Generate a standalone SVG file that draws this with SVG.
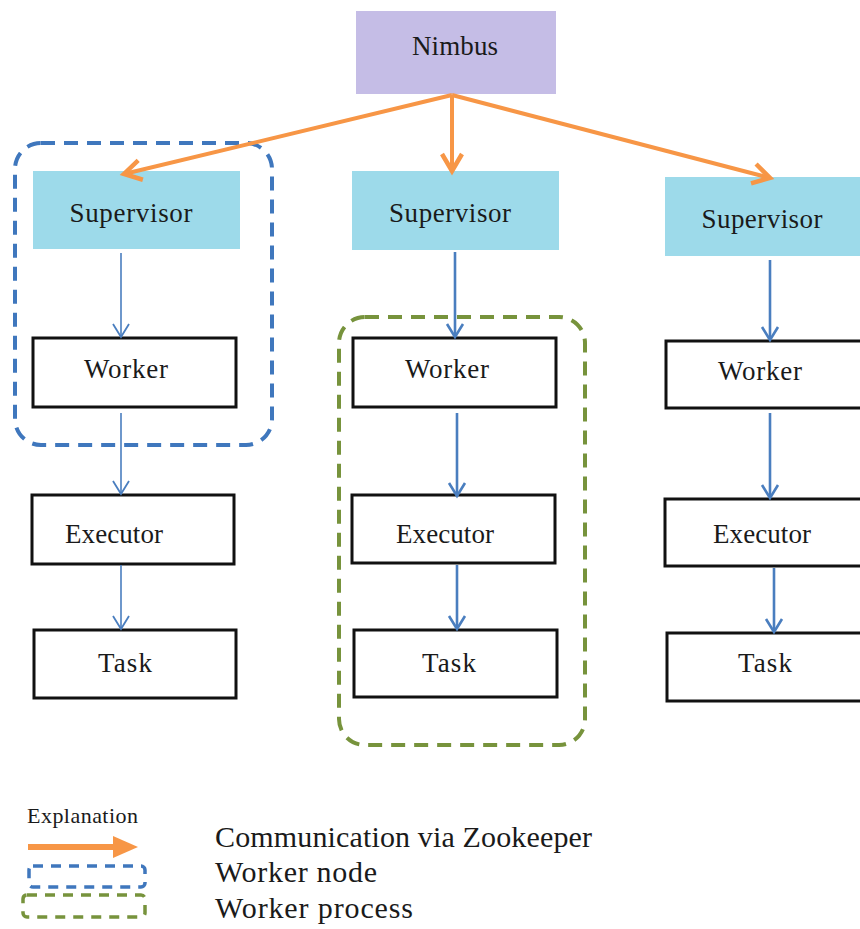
<svg xmlns="http://www.w3.org/2000/svg" width="860" height="929" viewBox="0 0 860 929">
<style>
text{font-family:"Liberation Serif","Times New Roman",serif;fill:#1a1a1a}
.lbl{font-size:27px;text-anchor:middle}
.leg{font-size:30px}
.box{fill:#ffffff;stroke:#111111;stroke-width:3}
.sup{fill:#9ddaea}
.nim{fill:#c5bde6}
.or{stroke:#f79646;stroke-width:4;fill:none;marker-end:url(#ah-or)}
.bt{stroke:#4a7ebf;stroke-width:1.6;fill:none;marker-end:url(#ah-bt)}
.bk{stroke:#4a7ebf;stroke-width:2.6;fill:none;marker-end:url(#ah-bk)}
.wn{fill:none;stroke:#3f77bd;stroke-width:4;stroke-dasharray:14 9}
.wp{fill:none;stroke:#77933c;stroke-width:4;stroke-dasharray:14 9}
</style>
<defs>
<marker id="ah-or" viewBox="-22 -14 26 28" refX="0" refY="0" markerUnits="userSpaceOnUse" markerWidth="26" markerHeight="28" orient="auto" overflow="visible">
<path d="M-17,-10 L0,0 L-17,10" fill="none" stroke="#f79646" stroke-width="4.5"/>
</marker>
<marker id="ah-bt" viewBox="-16 -12 20 24" refX="0" refY="0" markerUnits="userSpaceOnUse" markerWidth="20" markerHeight="24" orient="auto" overflow="visible">
<path d="M-13,-8 L0,0 L-13,8" fill="none" stroke="#4a7ebf" stroke-width="1.8"/>
</marker>
<marker id="ah-bk" viewBox="-16 -12 20 24" refX="0" refY="0" markerUnits="userSpaceOnUse" markerWidth="20" markerHeight="24" orient="auto" overflow="visible">
<path d="M-13,-8 L0,0 L-13,8" fill="none" stroke="#4a7ebf" stroke-width="2.6"/>
</marker>
</defs>
<rect width="860" height="929" fill="#ffffff"/>

<g id="nimbus"><rect class="nim" x="356" y="11" width="200" height="83"/><text class="lbl" x="455" y="55" textLength="86">Nimbus</text></g>

<g id="supervisor1"><rect class="sup" x="33" y="171" width="207" height="78"/><text class="lbl" x="131" y="222" textLength="123">Supervisor</text></g>
<g id="supervisor2"><rect class="sup" x="352" y="171" width="207" height="79"/><text class="lbl" x="450" y="222" textLength="122">Supervisor</text></g>
<g id="supervisor3"><rect class="sup" x="665" y="177" width="195" height="79"/><text class="lbl" x="762" y="228" textLength="121">Supervisor</text></g>

<g id="worker1"><rect class="box" x="33" y="338" width="203" height="69"/><text class="lbl" x="126" y="378" textLength="84">Worker</text></g>
<g id="worker2"><rect class="box" x="353" y="338" width="203" height="69"/><text class="lbl" x="447" y="378" textLength="84">Worker</text></g>
<g id="worker3"><rect class="box" x="666" y="341" width="200" height="67"/><text class="lbl" x="760" y="380" textLength="84">Worker</text></g>

<g id="executor1"><rect class="box" x="32" y="495" width="202" height="69"/><text class="lbl" x="114" y="543" textLength="98">Executor</text></g>
<g id="executor2"><rect class="box" x="352" y="495" width="203" height="68"/><text class="lbl" x="445" y="543" textLength="98">Executor</text></g>
<g id="executor3"><rect class="box" x="665" y="499" width="200" height="67"/><text class="lbl" x="762" y="543" textLength="98">Executor</text></g>

<g id="task1"><rect class="box" x="34" y="630" width="202" height="68"/><text class="lbl" x="125" y="672" textLength="54">Task</text></g>
<g id="task2"><rect class="box" x="354" y="630" width="203" height="67"/><text class="lbl" x="449" y="672" textLength="54">Task</text></g>
<g id="task3"><rect class="box" x="667" y="633" width="200" height="68"/><text class="lbl" x="765" y="672" textLength="54">Task</text></g>

<g id="worker-node"><rect class="wn" x="15" y="143" width="257" height="302" rx="26"/></g>
<g id="worker-process"><rect class="wp" x="339" y="317" width="246" height="428" rx="26"/></g>

<g id="connectors">
<path class="or" d="M452,95 L124,174"/>
<path class="or" d="M452,95 L452,171"/>
<path class="or" d="M452,95 L770,178"/>
<path class="bt" d="M121,253 L121,337"/>
<path class="bt" d="M121,413 L121,494"/>
<path class="bt" d="M121,565 L121,629"/>
<path class="bk" d="M455,252 L455,337"/>
<path class="bk" d="M457,413 L457,496"/>
<path class="bk" d="M457,565 L457,629"/>
<path class="bk" d="M770,260 L770,340"/>
<path class="bk" d="M770,413 L770,498"/>
<path class="bk" d="M774,568 L774,632"/>
</g>

<g id="legend">
<text x="27" y="823" font-size="22" textLength="111">Explanation</text>
<line x1="28" y1="847" x2="116" y2="847" stroke="#f79646" stroke-width="6"/>
<polygon points="113,836 138,847 113,858" fill="#f79646"/>
<rect x="29" y="866" width="116" height="21" rx="4" fill="none" stroke="#3f77bd" stroke-width="3.5" stroke-dasharray="10 8"/>
<rect x="23" y="895" width="122" height="22" rx="4" fill="none" stroke="#77933c" stroke-width="3.5" stroke-dasharray="10 8"/>
<text class="leg" x="215" y="847" textLength="377">Communication via Zookeeper</text>
<text class="leg" x="215" y="882" textLength="162">Worker node</text>
<text class="leg" x="215" y="918" textLength="198">Worker process</text>
</g>
</svg>
